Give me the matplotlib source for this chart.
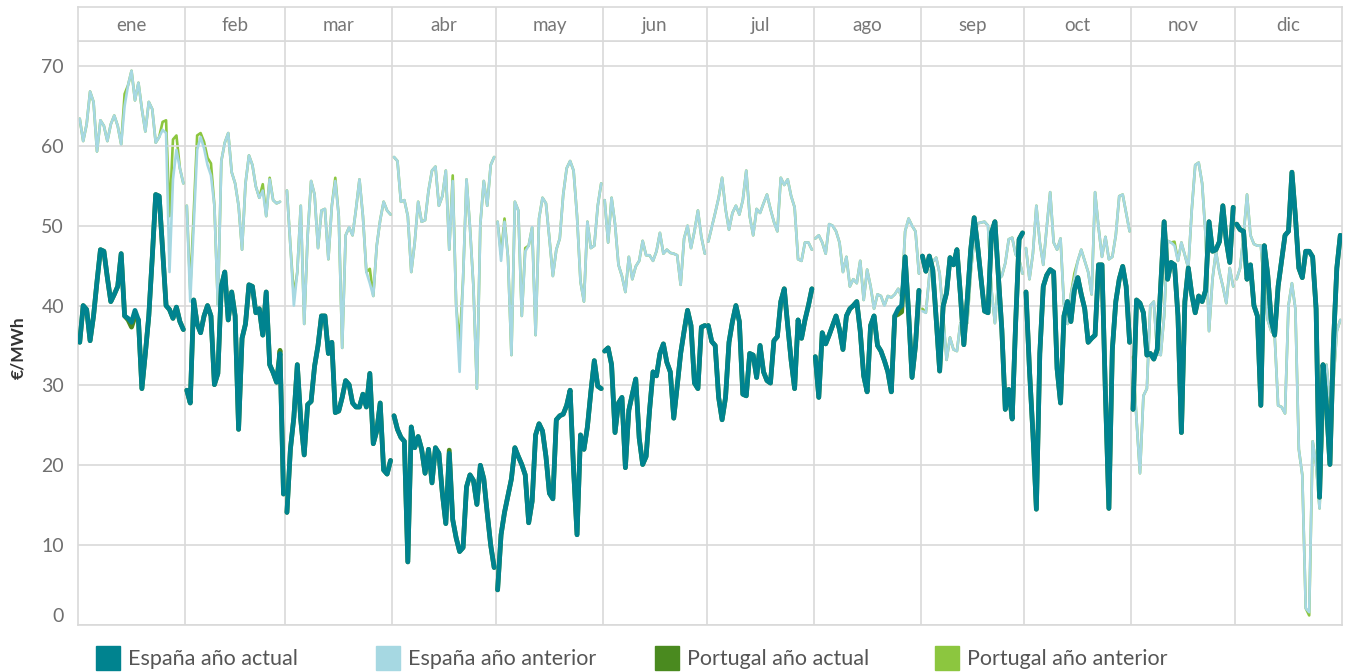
import numpy as np
import matplotlib
matplotlib.use("Agg")
import matplotlib.pyplot as plt
from matplotlib.patches import Rectangle

plt.rcParams["font.family"] = ["Lato", "DejaVu Sans"]

MONTHS = ["ene", "feb", "mar", "abr", "may", "jun", "jul", "ago", "sep", "oct", "nov", "dic"]
DAYS_IN_MONTH = [31, 29, 31, 30, 31, 30, 31, 31, 30, 31, 30, 31]
NA = np.nan  # el año anterior no tiene 29 de febrero

# precio diario €/MWh, un renglón por mes
ES_ACTUAL = [
    35.4, 40.0, 39.5, 35.6, 38.7, 43.0, 47.0, 46.8, 43.5, 40.5, 41.4, 42.4, 46.5, 38.7, 38.4, 37.9, 39.4, 38.2, 29.6, 34.0, 38.7, 46.0, 53.9, 53.7, 47.0, 40.0, 39.5, 38.4, 39.8, 38.0, 37.0,
    29.4, 27.8, 40.7, 37.7, 36.6, 38.7, 40.0, 38.7, 30.1, 31.5, 42.4, 44.2, 38.2, 41.7, 38.7, 24.5, 35.9, 37.7, 42.6, 42.4, 39.1, 39.6, 36.3, 41.7, 32.6, 31.6, 30.4, 34.0, 16.4,
    14.1, 22.0, 26.0, 32.6, 25.7, 21.3, 27.6, 28.0, 32.4, 35.0, 38.7, 38.7, 34.0, 35.4, 26.6, 26.8, 28.5, 30.6, 30.1, 27.8, 27.3, 27.3, 28.9, 27.3, 31.5, 22.7, 24.3, 27.8, 19.4, 18.9, 20.6,
    26.2, 24.5, 23.5, 23.0, 7.9, 24.8, 22.2, 23.6, 22.0, 19.0, 22.0, 17.8, 22.2, 21.5, 16.5, 12.7, 21.5, 13.2, 10.9, 9.2, 9.7, 17.3, 18.8, 18.1, 15.1, 20.0, 18.3, 14.0, 10.0, 7.2,
    4.4, 11.3, 14.1, 16.2, 18.3, 22.2, 21.1, 20.1, 18.8, 12.8, 15.5, 23.8, 25.2, 24.3, 21.1, 16.5, 15.8, 25.7, 26.2, 26.4, 27.5, 29.4, 19.4, 11.3, 23.8, 22.0, 24.8, 29.2, 33.1, 29.9, 29.6,
    34.3, 34.7, 32.6, 24.1, 27.8, 28.5, 19.7, 26.9, 28.9, 30.8, 23.4, 20.1, 21.1, 26.9, 31.7, 31.2, 34.0, 35.2, 32.9, 31.7, 25.9, 29.9, 34.0, 36.8, 39.4, 37.5, 30.3, 29.6, 37.3, 37.5,
    37.5, 35.5, 35.0, 28.5, 25.7, 28.5, 35.4, 38.0, 40.0, 38.0, 28.9, 28.7, 34.0, 33.8, 31.0, 35.0, 31.7, 30.6, 30.3, 35.6, 36.1, 40.5, 42.1, 37.5, 33.1, 29.6, 38.2, 35.9, 38.2, 40.0, 42.1,
    33.6, 28.5, 36.6, 35.2, 36.3, 37.5, 38.7, 37.0, 34.5, 38.7, 39.6, 40.0, 40.5, 36.8, 31.2, 29.2, 37.5, 38.7, 35.0, 34.3, 33.1, 31.7, 29.2, 38.7, 39.6, 40.0, 46.1, 39.1, 31.0, 35.0, 41.9,
    46.2, 44.3, 46.2, 44.5, 38.3, 31.8, 39.9, 41.6, 46.0, 45.1, 47.0, 41.4, 35.1, 40.8, 47.0, 51.0, 47.4, 43.3, 39.3, 39.1, 49.1, 50.5, 43.7, 37.0, 27.0, 29.5, 25.8, 37.8, 48.3, 49.1,
    41.7, 32.0, 24.0, 14.5, 34.0, 42.4, 43.8, 44.5, 44.2, 32.1, 27.8, 38.7, 40.5, 38.0, 41.9, 43.5, 41.4, 39.6, 35.4, 35.9, 36.3, 45.1, 45.1, 28.9, 14.6, 34.5, 40.5, 43.3, 44.9, 42.4, 35.4,
    27.0, 40.7, 40.3, 39.1, 33.8, 34.0, 33.3, 34.5, 42.4, 50.5, 43.3, 45.4, 45.1, 38.7, 24.1, 40.5, 44.7, 41.4, 39.1, 41.2, 40.5, 41.9, 50.5, 46.8, 47.0, 48.0, 52.5, 48.1, 45.4, 52.3,
    50.2, 49.5, 49.3, 43.3, 45.1, 40.0, 38.7, 27.5, 47.5, 43.8, 38.2, 36.3, 42.4, 45.6, 48.8, 49.3, 56.7, 51.2, 44.7, 43.5, 46.8, 46.8, 46.1, 39.6, 16.0, 32.6, 27.5, 20.1, 35.0, 44.7, 48.8,
]

ES_ANTERIOR = [
    63.4, 60.6, 62.7, 66.8, 65.5, 59.3, 63.2, 62.5, 60.6, 62.7, 63.8, 62.5, 60.2, 65.0, 67.6, 69.4, 65.7, 67.9, 64.6, 61.8, 65.5, 64.6, 60.4, 61.1, 62.0, 61.6, 44.2, 55.8, 59.5, 57.2, 55.3,
    52.5, 40.5, 50.0, 59.5, 61.1, 59.7, 57.6, 56.3, 52.5, 40.0, 58.1, 60.4, 61.6, 56.7, 55.3, 52.5, 47.0, 55.3, 58.8, 57.6, 54.9, 53.5, 54.4, 51.2, 55.8, 53.2, 52.8, 53.0, NA,
    54.4, 47.5, 40.0, 44.2, 52.5, 37.7, 48.8, 55.6, 53.9, 47.2, 51.9, 52.1, 45.8, 52.5, 55.6, 51.2, 34.7, 48.8, 49.8, 48.8, 52.1, 55.8, 51.2, 44.2, 42.8, 41.2, 47.5, 50.7, 53.0, 51.9, 51.4,
    58.6, 58.1, 53.0, 53.2, 51.2, 44.2, 47.9, 53.0, 50.5, 50.7, 54.4, 56.9, 57.4, 52.5, 53.7, 56.9, 47.0, 55.6, 40.0, 31.7, 43.3, 55.8, 49.8, 42.4, 29.6, 50.2, 55.6, 52.5, 57.6, 58.6,
    50.5, 45.6, 50.5, 46.1, 33.8, 53.0, 51.9, 38.7, 46.8, 47.5, 49.8, 36.3, 50.9, 53.5, 52.8, 48.4, 43.7, 47.0, 48.4, 53.9, 57.2, 58.1, 56.9, 51.2, 43.0, 40.5, 50.5, 47.2, 47.5, 52.5, 55.3,
    53.2, 47.9, 53.5, 50.2, 45.1, 43.7, 41.7, 46.1, 43.3, 44.9, 45.6, 48.1, 46.3, 46.3, 45.6, 46.8, 49.1, 46.5, 47.0, 46.6, 46.5, 46.3, 42.6, 48.4, 50.0, 47.2, 49.3, 51.9, 48.6, 46.5,
    48.0, 49.8, 51.6, 53.5, 56.0, 52.1, 49.5, 51.6, 52.5, 51.4, 53.2, 56.9, 51.2, 48.8, 52.1, 51.6, 52.8, 53.9, 52.1, 50.5, 49.3, 56.0, 55.1, 55.8, 53.7, 52.3, 45.8, 45.6, 47.9, 47.9, 47.0,
    48.4, 48.8, 47.9, 46.5, 50.2, 50.0, 49.3, 47.9, 44.2, 46.1, 42.4, 43.3, 42.8, 45.6, 40.7, 44.5, 42.4, 39.6, 41.4, 41.2, 40.0, 41.2, 41.0, 41.4, 42.1, 41.0, 49.3, 50.9, 50.0, 49.3, 44.0,
    39.3, 39.1, 43.7, 45.5, 46.0, 44.0, 38.7, 33.2, 36.0, 34.5, 34.3, 37.8, 37.8, 37.8, 44.1, 48.3, 50.3, 50.4, 50.5, 50.0, 42.0, 37.8, 43.3, 43.7, 45.3, 48.3, 48.5, 46.4, 45.8, 44.0,
    47.2, 43.3, 46.5, 52.5, 47.9, 45.1, 49.8, 54.2, 47.9, 47.0, 48.4, 40.0, 37.7, 41.4, 43.3, 45.6, 47.0, 45.6, 44.2, 41.4, 54.2, 49.8, 46.1, 48.6, 45.8, 46.1, 48.8, 53.7, 53.9, 51.6, 49.3,
    33.1, 25.7, 19.0, 28.7, 29.6, 40.0, 40.5, 34.0, 33.8, 38.7, 48.1, 47.9, 47.5, 45.6, 47.9, 46.3, 44.7, 52.0, 57.6, 57.9, 55.3, 48.8, 36.8, 43.3, 46.8, 44.2, 42.4, 40.3, 44.7, 42.4,
    43.3, 44.7, 48.8, 53.9, 48.8, 47.7, 47.5, 47.5, 42.4, 38.2, 36.8, 36.3, 27.5, 27.3, 26.5, 40.0, 42.8, 39.6, 22.0, 18.8, 2.1, 1.6, 23.0, 20.1, 14.6, 25.7, 32.6, 28.0, 30.3, 36.8, 38.2,
]

PT_ACTUAL = [
    35.4, 40.0, 39.5, 35.6, 38.7, 43.0, 47.0, 46.8, 43.5, 40.5, 41.4, 42.4, 46.5, 38.7, 38.2, 37.3, 38.6, 38.2, 29.6, 34.0, 38.7, 46.0, 53.9, 53.7, 47.0, 40.0, 39.5, 38.4, 39.8, 38.0, 37.0,
    29.4, 27.8, 40.7, 37.7, 36.6, 38.7, 40.0, 38.7, 30.1, 31.5, 42.4, 44.2, 38.2, 41.7, 38.7, 24.5, 35.9, 37.7, 42.6, 42.4, 39.1, 39.6, 36.3, 41.7, 32.6, 31.6, 30.4, 34.4, 16.4,
    14.1, 22.0, 26.0, 32.6, 25.7, 21.3, 27.6, 28.0, 32.4, 35.0, 38.7, 38.7, 34.0, 35.4, 26.6, 26.8, 28.5, 30.6, 30.1, 27.8, 27.3, 27.3, 28.9, 27.3, 31.5, 22.7, 24.3, 27.8, 19.4, 18.9, 20.6,
    26.2, 24.5, 23.5, 23.0, 7.9, 24.8, 22.2, 23.6, 22.0, 19.0, 22.0, 17.8, 22.2, 21.5, 16.5, 12.7, 21.9, 13.2, 10.9, 9.2, 9.7, 17.3, 18.8, 18.1, 15.1, 20.0, 18.3, 14.0, 10.0, 7.2,
    4.4, 11.3, 14.1, 16.2, 18.3, 22.2, 21.1, 20.1, 18.8, 12.8, 15.5, 23.8, 25.2, 24.3, 21.1, 16.5, 15.8, 25.7, 26.2, 26.4, 27.5, 29.4, 19.4, 11.3, 23.8, 22.0, 24.8, 29.2, 33.1, 29.9, 29.6,
    34.3, 34.7, 32.6, 24.1, 27.8, 28.5, 19.7, 26.9, 28.9, 30.8, 23.4, 20.1, 21.1, 26.9, 31.7, 31.2, 34.0, 35.2, 32.9, 31.7, 25.9, 29.9, 34.0, 36.8, 39.4, 37.5, 30.3, 29.6, 37.3, 37.5,
    37.5, 35.5, 35.0, 28.5, 25.7, 28.5, 35.4, 38.0, 40.0, 38.0, 28.9, 28.7, 34.0, 33.8, 31.0, 35.0, 31.7, 30.6, 30.3, 35.6, 36.1, 40.5, 42.1, 37.5, 33.1, 29.6, 38.2, 35.9, 38.2, 40.0, 42.1,
    33.6, 28.5, 36.6, 35.2, 36.3, 37.5, 38.7, 37.0, 34.5, 38.7, 39.6, 40.0, 40.5, 36.8, 31.2, 29.2, 37.5, 38.7, 35.0, 34.3, 33.1, 31.7, 29.2, 38.7, 38.9, 39.2, 46.1, 39.1, 31.0, 35.0, 41.9,
    46.2, 44.3, 46.2, 44.5, 38.3, 31.8, 39.9, 41.6, 46.0, 45.1, 47.0, 41.4, 35.1, 40.8, 47.0, 51.0, 47.4, 43.3, 39.3, 39.1, 49.1, 50.5, 43.7, 37.0, 27.0, 29.5, 25.8, 37.8, 48.3, 49.1,
    41.7, 32.0, 24.0, 14.5, 34.0, 42.4, 43.8, 44.5, 44.2, 32.1, 27.8, 38.7, 40.5, 38.0, 41.9, 43.5, 41.4, 39.6, 35.4, 35.9, 36.3, 45.1, 45.1, 28.9, 14.6, 34.5, 40.5, 43.3, 44.9, 42.4, 35.4,
    27.0, 40.7, 40.3, 39.1, 33.8, 34.0, 33.3, 34.5, 42.4, 50.5, 43.3, 45.4, 45.1, 38.7, 24.1, 40.5, 44.7, 41.4, 39.1, 41.2, 40.5, 41.9, 50.5, 46.8, 47.0, 48.0, 52.5, 48.1, 45.4, 52.3,
    50.2, 49.5, 49.3, 43.3, 45.1, 40.0, 38.7, 27.5, 47.5, 43.8, 38.2, 36.3, 42.4, 45.6, 48.8, 49.3, 56.7, 51.2, 44.7, 43.5, 46.8, 46.8, 46.1, 39.6, 16.0, 32.6, 27.5, 20.1, 35.0, 44.7, 48.8,
]

PT_ANTERIOR = [
    63.4, 60.6, 62.7, 66.8, 65.5, 59.3, 63.2, 62.5, 60.6, 62.7, 63.8, 62.5, 60.2, 66.5, 67.6, 69.4, 65.7, 67.9, 64.6, 61.8, 65.5, 64.6, 60.4, 61.1, 63.0, 63.2, 51.2, 60.8, 61.3, 57.2, 55.3,
    52.5, 42.0, 51.5, 61.3, 61.6, 60.5, 58.5, 57.8, 52.5, 40.0, 58.1, 60.4, 61.6, 56.7, 55.3, 52.5, 47.0, 55.3, 58.8, 57.6, 54.9, 53.5, 55.2, 51.2, 56.0, 53.2, 52.8, 53.0, NA,
    54.4, 47.5, 41.2, 44.2, 52.5, 37.7, 48.8, 55.6, 53.9, 47.2, 51.9, 52.1, 45.8, 52.5, 56.0, 51.2, 34.7, 48.8, 49.8, 48.8, 52.1, 55.8, 51.2, 44.2, 44.6, 41.2, 47.5, 50.7, 53.0, 51.9, 51.4,
    58.6, 58.1, 53.0, 53.2, 51.2, 44.2, 47.9, 53.0, 50.5, 50.7, 54.4, 56.9, 57.4, 52.5, 53.7, 56.9, 47.0, 56.3, 40.0, 35.2, 43.3, 55.8, 49.8, 42.4, 29.6, 50.2, 55.6, 52.5, 57.6, 58.6,
    50.5, 46.4, 50.9, 46.1, 33.8, 53.0, 51.9, 38.7, 47.2, 47.5, 49.8, 36.3, 50.9, 53.5, 52.8, 48.4, 43.7, 47.0, 48.4, 53.9, 57.2, 58.1, 56.9, 51.2, 43.0, 40.5, 50.5, 47.2, 47.5, 52.5, 55.3,
    53.2, 47.9, 53.5, 50.2, 45.1, 43.7, 41.7, 46.1, 43.3, 44.9, 45.6, 48.1, 46.3, 46.3, 45.6, 46.8, 49.1, 46.5, 47.0, 46.6, 46.5, 46.3, 42.6, 48.4, 50.0, 47.2, 49.3, 51.9, 48.6, 46.5,
    48.0, 49.8, 51.6, 53.5, 56.0, 52.1, 49.5, 51.6, 52.5, 51.4, 53.2, 56.9, 51.2, 48.8, 52.1, 51.6, 52.8, 53.9, 52.1, 50.5, 49.3, 56.0, 55.1, 55.8, 53.7, 52.3, 45.8, 45.6, 47.9, 47.9, 47.0,
    48.4, 48.8, 47.9, 46.5, 50.2, 50.0, 49.3, 47.9, 44.2, 46.1, 42.4, 43.3, 42.8, 45.6, 40.7, 44.5, 42.4, 39.6, 41.4, 41.2, 40.0, 41.2, 41.0, 41.4, 42.1, 41.0, 49.3, 50.9, 50.0, 49.3, 44.0,
    39.6, 39.1, 43.7, 45.5, 46.0, 44.0, 38.7, 33.2, 36.0, 34.5, 34.3, 37.8, 37.8, 37.8, 44.1, 48.3, 50.3, 50.4, 50.5, 50.0, 42.0, 37.8, 43.3, 43.7, 45.3, 48.3, 48.5, 46.4, 45.8, 44.0,
    47.2, 43.3, 46.5, 52.5, 47.9, 45.1, 49.8, 54.2, 47.9, 47.0, 48.4, 40.0, 37.7, 41.4, 44.0, 45.6, 47.0, 45.6, 44.2, 41.4, 54.2, 49.8, 46.1, 48.6, 45.8, 46.1, 48.8, 53.7, 53.9, 51.6, 49.3,
    33.6, 25.7, 19.0, 28.7, 29.6, 40.0, 40.5, 34.0, 33.8, 38.7, 48.1, 47.9, 48.0, 45.6, 47.9, 46.3, 44.7, 52.0, 57.6, 57.9, 55.3, 48.8, 36.8, 43.3, 46.8, 44.2, 42.4, 40.3, 44.7, 42.4,
    43.3, 44.7, 48.8, 53.9, 48.8, 47.7, 47.5, 47.5, 42.4, 38.2, 36.8, 36.3, 27.5, 27.3, 26.5, 40.0, 42.8, 39.6, 22.0, 18.8, 2.1, 1.2, 23.0, 20.1, 14.6, 25.7, 32.6, 28.0, 30.3, 36.8, 38.2,
]

SERIES_LABELS = ["España año actual", "España año anterior", "Portugal año actual", "Portugal año anterior"]
SERIES_COLORS = ["#00838f", "#a6d8e2", "#4a8a1f", "#8cc63f"]

GRID = "#d9d9d9"
TXT = "#6f6f6f"

fig = plt.figure(figsize=(13.48, 6.72), dpi=100)
W, H = 1348.0, 672.0
left, right = 78 / W, 1342 / W
ax = fig.add_axes([left, 1 - 625 / H, right - left, (625 - 41) / H])
axh = fig.add_axes([left, 1 - 41 / H, right - left, (41 - 7) / H])

bounds = np.concatenate([[0], np.cumsum(DAYS_IN_MONTH)])
n_days = bounds[-1]

# orden de dibujo: Portugal anterior, España anterior, Portugal actual, España actual
draw = [
    (PT_ANTERIOR, SERIES_COLORS[3], 1.9, 1),
    (ES_ANTERIOR, SERIES_COLORS[1], 1.9, 2),
    (PT_ACTUAL, SERIES_COLORS[2], 3.4, 3),
    (ES_ACTUAL, SERIES_COLORS[0], 3.4, 4),
]
for vals, col, lw, z in draw:
    vals = np.asarray(vals, dtype=float)
    for m in range(12):
        a, b = bounds[m], bounds[m + 1]
        x = np.arange(a, b) + 0.5
        ax.plot(x, vals[a:b], color=col, lw=lw, zorder=z,
                solid_joinstyle="round", solid_capstyle="round")

ax.set_xlim(0, n_days)
ax.set_ylim(0, 73.13)
ax.set_yticks(range(0, 71, 10))
ax.set_xticks([])
ax.grid(axis="y", color=GRID, lw=1.2, zorder=0)
for b in bounds[1:-1]:
    ax.axvline(b, color=GRID, lw=1.2, zorder=0)
for s in ax.spines.values():
    s.set_color(GRID)
    s.set_linewidth(1.2)
ax.tick_params(axis="y", length=0, pad=10, labelsize=14, labelcolor=TXT)
ax.get_yticklabels()[0].set_verticalalignment("bottom")

# cabecera con los meses
axh.set_xlim(0, n_days)
axh.set_ylim(0, 1)
axh.set_xticks([])
axh.set_yticks([])
for s in axh.spines.values():
    s.set_color(GRID)
    s.set_linewidth(1.2)
for b in bounds[1:-1]:
    axh.axvline(b, color=GRID, lw=1.2)
for m, name in enumerate(MONTHS):
    axh.text((bounds[m] + bounds[m + 1]) / 2, 0.45, name, ha="center", va="center",
             fontsize=13.5, color="#777777")

fig.text(18 / W, 1 - 348 / H, "€/MWh", rotation=90, ha="center", va="center",
         fontsize=12.5, fontweight="bold", color="#333333")

# leyenda
for i, (lab, col) in enumerate(zip(SERIES_LABELS, SERIES_COLORS)):
    x0 = 96 + i * 279.7
    fig.patches.append(Rectangle((x0 / W, 1 - 670 / H), 24 / W, 24 / H,
                                 transform=fig.transFigure, color=col, figure=fig))
    fig.text((x0 + 32) / W, 1 - 659 / H, lab, ha="left", va="center",
             fontsize=15.5, color="#555555")

fig.savefig("out.png", dpi=100)
